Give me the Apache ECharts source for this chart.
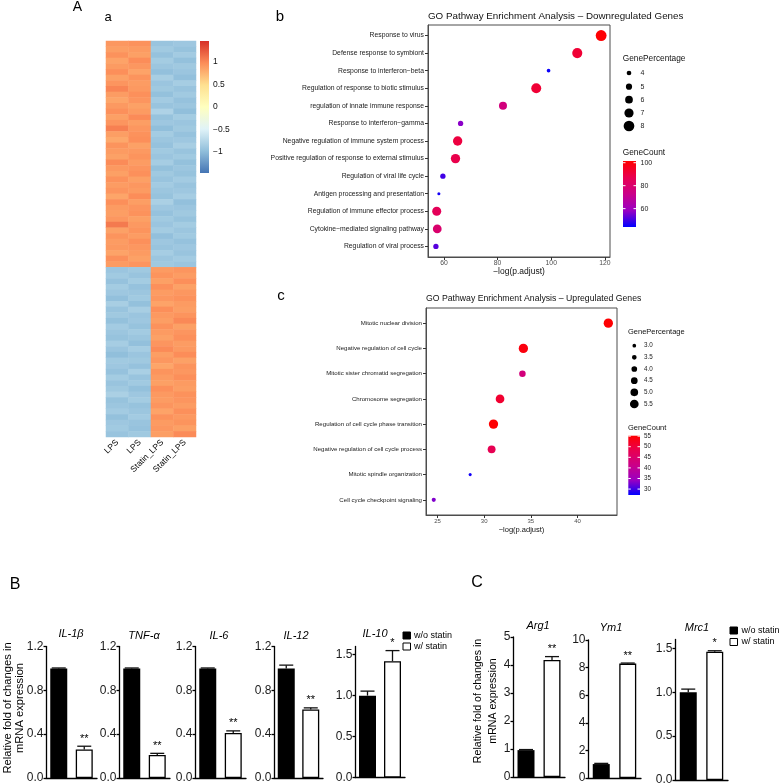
<!DOCTYPE html>
<html><head><meta charset="utf-8">
<script src="https://cdn.jsdelivr.net/npm/echarts@6/dist/echarts.min.js"></script>
<style>html,body{margin:0;padding:0;background:#fff}#c{width:784px;height:784px}</style>
</head><body><div id="c"></div>
<script>
// ---------------- DATA ----------------
// Heatmap (z-scores), two gene blocks
const heatSamples = ['LPS','LPS','Statin_LPS','Statin_LPS'];
const heatColorTicks = [1, 0.5, 0, -0.5, -1];
const topLPS1 = [0.92,0.88,0.95,0.85,0.90,0.97,0.86,0.93,1.02,0.89,0.84,0.91,0.96,0.87,0.93,1.05,0.88,0.82,0.94,0.90,0.86,0.99,0.91,0.87,0.95,0.89,0.93,0.84,0.97,0.90,0.88,0.92,1.08,0.86,0.94,0.89,0.91,0.85,0.96,0.90];
const topLPS2 = [0.95,0.90,0.87,0.98,0.92,0.85,0.94,0.89,0.91,0.96,0.93,0.86,0.90,0.99,0.88,0.92,0.95,0.97,0.86,0.91,0.94,0.89,0.93,0.96,0.87,0.92,0.90,0.98,0.88,0.93,0.95,0.87,0.91,0.94,0.89,0.96,0.92,0.90,0.86,0.93];
const topS1 = [-0.93,-0.88,-0.95,-0.86,-0.91,-0.97,-0.84,-0.92,-0.89,-0.96,-0.87,-0.93,-0.80,-0.94,-0.90,-0.98,-0.86,-0.91,-0.95,-0.88,-0.92,-0.85,-0.96,-0.89,-0.93,-0.87,-0.91,-0.94,-0.82,-0.90,-0.95,-0.88,-0.92,-0.86,-0.97,-0.90,-0.93,-0.85,-0.91,-0.89];
const topS2 = [-0.90,-0.94,-0.87,-0.96,-0.89,-0.92,-0.97,-0.85,-0.93,-0.88,-0.95,-0.91,-0.98,-0.86,-0.92,-0.89,-0.95,-0.90,-0.84,-0.93,-0.88,-0.96,-0.91,-0.94,-0.87,-0.93,-0.90,-0.85,-0.97,-0.92,-0.89,-0.94,-0.86,-0.91,-0.88,-0.95,-0.90,-0.93,-0.87,-0.92];
const botLPS1 = [-0.92,-0.88,-0.95,-0.86,-0.90,-0.97,-0.84,-0.93,-0.89,-0.96,-0.87,-0.91,-0.94,-0.85,-0.92,-0.98,-0.88,-0.90,-0.95,-0.86,-0.93,-0.89,-0.82,-0.94,-0.91,-0.87,-0.96,-0.90,-0.88,-0.93];
const botLPS2 = [-0.89,-0.93,-0.86,-0.95,-0.91,-0.88,-0.96,-0.84,-0.92,-0.90,-0.94,-0.87,-0.91,-0.97,-0.85,-0.92,-0.89,-0.95,-0.83,-0.93,-0.88,-0.96,-0.90,-0.86,-0.94,-0.91,-0.87,-0.93,-0.95,-0.89];
const botS1 = [0.90,0.94,0.87,0.96,0.89,0.92,0.85,0.97,0.91,0.88,0.95,0.90,0.86,0.93,0.99,0.88,0.92,0.84,0.94,0.90,0.87,0.96,0.91,0.89,0.93,0.85,0.95,0.90,0.92,0.88];
const botS2 = [0.93,0.89,0.97,0.86,0.92,0.95,0.90,0.88,0.94,1.00,0.87,0.93,0.96,0.89,0.91,0.98,0.86,0.94,0.92,0.97,0.90,0.88,0.95,0.93,0.89,0.96,0.91,0.94,0.87,0.99];

// GO downregulated
const downTerms = ['Response to virus','Defense response to symbiont','Response to interferon\u2212beta','Regulation of response to biotic stimulus','regulation of innate immune response','Response to interferon\u2212gamma','Negative regulation of immune system process','Positive regulation of response to external stimulus','Regulation of viral life cycle','Antigen processing and presentation','Regulation of immune effector process','Cytokine\u2212mediated signaling pathway','Regulation of viral process'];
const downLogP = [118.6,109.7,99.0,94.4,82.0,66.2,65.1,64.3,59.6,58.1,57.3,57.5,57.0];
const downPct = [8.1,7.6,3.3,7.5,6.2,4.4,7.1,7.1,4.4,2.9,6.9,6.7,4.4];
const downCount = [101,92,45,92,76,57,90,88,50,46,85,80,52];
const downXTicks = [60,80,100,120];
const downPctTicks = [4,5,6,7,8];
const downCountTicks = [100,80,60];

// GO upregulated
const upTerms = ['Mitotic nuclear division','Negative regulation of cell cycle','Mitotic sister chromatid segregation','Chromosome segregation','Regulation of cell cycle phase transition','Negative regulation of cell cycle process','Mitotic spindle organization','Cell cycle checkpoint signaling'];
const upLogP = [43.3,34.2,34.1,31.7,31.0,30.8,28.5,24.6];
const upPct = [5.8,5.8,4.4,5.5,5.8,5.1,2.7,3.2];
const upCount = [55,54,43,51,55,48,28,33];
const upXTicks = [25,30,35,40];
const upPctTicks = [3.0,3.5,4.0,4.5,5.0,5.5];
const upCountTicks = [55,50,45,40,35,30];

// qPCR bars
const barGenes = ['IL-1\u03b2','TNF-\u03b1','IL-6','IL-12','IL-10','Arg1','Ym1','Mrc1'];
const barGroups = ['w/o statin','w/ statin'];
const ctrlMean = [1.00,1.00,1.00,1.00,1.00,0.96,1.01,1.00];
const ctrlErr = [0.004,0.004,0.004,0.03,0.055,0.02,0.05,0.035];
const statinMean = [0.26,0.21,0.41,0.625,1.42,4.18,8.29,1.46];
const statinErr = [0.03,0.015,0.02,0.015,0.13,0.12,0.04,0.012];
const sigMarks = ['**','**','**','**','*','**','**','*'];
const yTickVals = [[0,0.4,0.8,1.2],[0,0.4,0.8,1.2],[0,0.4,0.8,1.2],[0,0.4,0.8,1.2],[0,0.5,1.0,1.5],[0,1,2,3,4,5],[0,2,4,6,8,10],[0,0.5,1.0,1.5]];
const yAxisMax = [1.2,1.2,1.2,1.2,1.6,5,10,1.6];
const yDecimals = [1,1,1,1,1,0,0,1];

// ---------------- LAYOUT / STYLE ----------------
const FONT = 'Liberation Sans, Arial, sans-serif';
const rdylbu = ['#4575B4','#91BFDB','#E0F3F8','#FFFFBF','#FEE090','#FC8D59','#D73027'];
const blueRed = ['#0000FF','#9A00C2','#CA0089','#E80050','#FF0000'];
const heatRange = [-1.47, 1.47];
const downCountRange = [44, 101.5];
const upCountRange = [27.2, 55.2];
const sizeB = p => 1.5 * p - 1.3;
const sizeC = p => Math.max(2, 2.0 * p - 2.3);

const barLayout = [
  {left:46, top:646.5, width:51, height:131.5, tx:71, ty:634},
  {left:119, top:646.5, width:51, height:131.5, tx:144, ty:636},
  {left:195, top:646.5, width:51, height:131.5, tx:219, ty:636},
  {left:274, top:646.5, width:49, height:131.5, tx:296, ty:636},
  {left:355, top:646.5, width:50, height:131, tx:375, ty:634},
  {left:513, top:637, width:52, height:140, tx:538, ty:626},
  {left:588, top:640, width:53, height:138, tx:611, ty:628},
  {left:675, top:639.5, width:53, height:140.5, tx:697, ty:628}
];

// ---------------- BUILD ----------------
const hmCols = [topLPS1.concat(botLPS1), topLPS2.concat(botLPS2), topS1.concat(botS1), topS2.concat(botS2)];
const nRows = hmCols[0].length;
const heatData = [];
for (let c = 0; c < 4; c++) for (let r = 0; r < nRows; r++) heatData.push([c, r, hmCols[c][r]]);
const rowIds = []; for (let r = 0; r < nRows; r++) rowIds.push('g' + r);

const grids = [
  {left:106, top:41, width:90, height:396, outerBoundsMode:'none'},
  {left:428, top:25, width:182, height:232, show:true, borderColor:'#4d4d4d', borderWidth:1, outerBoundsMode:'none'},
  {left:426, top:308, width:191, height:207, show:true, borderColor:'#4d4d4d', borderWidth:1, outerBoundsMode:'none'}
];
const xAxes = [
  {gridIndex:0, type:'category', data:heatSamples, axisLine:{show:false}, axisTick:{show:false},
   axisLabel:{rotate:45, fontSize:8.5, margin:4, color:'#000', interval:0, fontFamily:FONT}},
  {gridIndex:1, type:'value', min:54.05, max:121.9, splitLine:{show:false},
   axisLine:{show:true, onZero:false, lineStyle:{color:'#4d4d4d', width:1}},
   axisTick:{show:true, length:3, customValues:downXTicks, lineStyle:{color:'#333'}},
   axisLabel:{customValues:downXTicks, fontSize:6.8, color:'#4d4d4d', margin:3, fontFamily:FONT}},
  {gridIndex:2, type:'value', min:23.77, max:44.23, splitLine:{show:false},
   axisLine:{show:true, onZero:false, lineStyle:{color:'#4d4d4d', width:1}},
   axisTick:{show:true, length:3, customValues:upXTicks, lineStyle:{color:'#333'}},
   axisLabel:{customValues:upXTicks, fontSize:6, color:'#4d4d4d', margin:3, fontFamily:FONT}}
];
const yAxes = [
  {gridIndex:0, type:'category', data:rowIds, inverse:true, show:false},
  {gridIndex:1, type:'value', min:-0.6, max:12.6, inverse:true, splitLine:{show:false},
   axisLine:{show:true, onZero:false, lineStyle:{color:'#4d4d4d', width:1}},
   axisTick:{show:true, length:3, customValues:downTerms.map((_, i) => i), lineStyle:{color:'#333'}},
   axisLabel:{customValues:downTerms.map((_, i) => i), formatter: v => downTerms[Math.round(v)], fontSize:6.8, color:'#1a1a1a', margin:4, fontFamily:FONT}},
  {gridIndex:2, type:'value', min:-0.6, max:7.6, inverse:true, splitLine:{show:false},
   axisLine:{show:true, onZero:false, lineStyle:{color:'#4d4d4d', width:1}},
   axisTick:{show:true, length:3, customValues:upTerms.map((_, i) => i), lineStyle:{color:'#333'}},
   axisLabel:{customValues:upTerms.map((_, i) => i), formatter: v => upTerms[Math.round(v)], fontSize:6.1, color:'#1a1a1a', margin:4, fontFamily:FONT}}
];
const series = [
  {type:'heatmap', xAxisIndex:0, yAxisIndex:0, data:heatData, silent:true, itemStyle:{borderWidth:0}, progressive:0},
  {type:'scatter', xAxisIndex:1, yAxisIndex:1, silent:true,
   data: downLogP.map((x, i) => [x, i, downPct[i], downCount[i]]),
   symbolSize: v => sizeB(v[2]), itemStyle:{opacity:1}},
  {type:'scatter', xAxisIndex:2, yAxisIndex:2, silent:true,
   data: upLogP.map((x, i) => [x, i, upPct[i], upCount[i]]),
   symbolSize: v => sizeC(v[2]), itemStyle:{opacity:1}}
];

const elements = [];
function T(x, y, text, size, opts) {
  return {type:'text', x:x, y:y, silent:true, z:10,
    style:Object.assign({text:text, fill:'#000', fontSize:size, fontFamily:FONT, textAlign:'center', textVerticalAlign:'middle'}, opts || {})};
}
function L(x1, y1, x2, y2, color, w) {
  return {type:'line', silent:true, z:11, shape:{x1:x1, y1:y1, x2:x2, y2:y2}, style:{stroke:color, lineWidth:w || 1}};
}

barGenes.forEach((g, k) => {
  const gi = 3 + k, lay = barLayout[k];
  grids.push({left:lay.left, top:lay.top, width:lay.width, height:lay.height, outerBoundsMode:'none'});
  xAxes.push({gridIndex:gi, type:'category', data:barGroups,
    axisLine:{show:true, lineStyle:{color:'#000', width:1.3}}, axisTick:{show:false}, axisLabel:{show:false}});
  yAxes.push({gridIndex:gi, type:'value', min:0, max:yAxisMax[k], splitLine:{show:false},
    axisLine:{show:true, lineStyle:{color:'#000', width:1.3}},
    axisTick:{show:true, length:2.5, customValues:yTickVals[k], lineStyle:{color:'#000', width:1.3}},
    axisLabel:{customValues:yTickVals[k], formatter: v => Number(v).toFixed(yDecimals[k]), fontSize:12, color:'#1a1a1a', margin:2.5, fontFamily:FONT}});
  series.push({type:'bar', xAxisIndex:gi, yAxisIndex:gi, barWidth:17, silent:true,
    data:[{value:ctrlMean[k], itemStyle:{color:'#000'}},
          {value:statinMean[k], itemStyle:{color:'#fff', borderColor:'#000', borderWidth:1.3}}]});
  const errData = [[0, ctrlMean[k], ctrlErr[k]], [1, statinMean[k], statinErr[k]]];
  series.push({type:'custom', xAxisIndex:gi, yAxisIndex:gi, silent:true, z:5,
    encode:{x:0, y:1}, data:errData,
    renderItem: function (params, api) {
      const x = api.value(0), m = api.value(1), e = api.value(2);
      const p0 = api.coord([x, m]), p1 = api.coord([x, m + e]);
      const half = 7;
      const ch = [
        {type:'line', shape:{x1:p0[0], y1:p0[1], x2:p1[0], y2:p1[1]}, style:{stroke:'#111', lineWidth:1.3}},
        {type:'line', shape:{x1:p1[0]-half, y1:p1[1], x2:p1[0]+half, y2:p1[1]}, style:{stroke:'#111', lineWidth:1.3}}
      ];
      if (params.dataIndex === 1) {
        ch.push({type:'text', x:p1[0], y:p1[1]-2, style:{text:sigMarks[k], fontSize:11, fontFamily:FONT, fill:'#000', textAlign:'center', textVerticalAlign:'bottom'}});
      }
      return {type:'group', children:ch};
    }});
  elements.push(T(lay.tx, lay.ty, g, 11, {fontStyle:'italic'}));
});

// Panel letters
elements.push(T(77.5, 7, 'A', 14));
elements.push(T(108, 17, 'a', 13));
elements.push(T(280, 17, 'b', 15));
elements.push(T(281, 296, 'c', 15));
elements.push(T(15, 585, 'B', 16));
elements.push(T(477, 583, 'C', 16));

// Heatmap colour bar
(function () {
  const bx = 200, by = 41, bw = 9, bh = 132;
  elements.push({type:'rect', silent:true, shape:{x:bx, y:by, width:bw, height:bh},
    style:{fill:new echarts.graphic.LinearGradient(0, 1, 0, 0, rdylbu.map((c, i) => ({offset:i/(rdylbu.length-1), color:c})))}});
  heatColorTicks.forEach(v => {
    const y = by + (heatRange[1] - v) / (heatRange[1] - heatRange[0]) * bh;
    elements.push(T(bx + 13, y, String(v).replace('-', '\u2212'), 8.5, {textAlign:'left', fill:'#111'}));
  });
})();

// GO titles & axis names
elements.push(T(428, 16, 'GO Pathway Enrichment Analysis \u2013 Downregulated Genes', 9.8, {textAlign:'left', fill:'#111'}));
elements.push(T(519, 272, '\u2212log(p.adjust)', 8.5, {fill:'#111'}));
elements.push(T(426, 299, 'GO Pathway Enrichment Analysis \u2013 Upregulated Genes', 8.7, {textAlign:'left', fill:'#111'}));
elements.push(T(521.5, 530, '\u2212log(p.adjust)', 7.5, {fill:'#111'}));

// GO legends
function goLegend(o) {
  elements.push(T(o.x, o.titleY, 'GenePercentage', o.titleSize, {textAlign:'left', fill:'#111'}));
  o.pctTicks.forEach((p, i) => {
    const y = o.pctY[i];
    elements.push({type:'circle', silent:true, shape:{cx:o.cx, cy:y, r:o.size(p)/2}, style:{fill:'#000'}});
    elements.push(T(o.lx, y, o.pctFmt(p), o.labSize, {textAlign:'left', fill:'#222'}));
  });
  elements.push(T(o.x, o.countTitleY, 'GeneCount', o.titleSize, {textAlign:'left', fill:'#111'}));
  elements.push({type:'rect', silent:true, shape:{x:o.barX, y:o.barY, width:o.barW, height:o.barH},
    style:{fill:new echarts.graphic.LinearGradient(0, 1, 0, 0, blueRed.map((c, i) => ({offset:i/(blueRed.length-1), color:c})))}});
  o.countTicks.forEach(v => {
    const y = o.barY + (o.range[1] - v) / (o.range[1] - o.range[0]) * o.barH;
    elements.push(L(o.barX, y, o.barX + 2.5, y, '#fff', 1));
    elements.push(L(o.barX + o.barW - 2.5, y, o.barX + o.barW, y, '#fff', 1));
    elements.push(T(o.lx, y, String(v), o.labSize, {textAlign:'left', fill:'#222'}));
  });
}
goLegend({x:622.7, titleY:59, titleSize:8.3, pctTicks:downPctTicks, pctY:[73,86.7,99.7,113,126], cx:629, lx:640.5,
  size:sizeB, pctFmt: p => String(p), labSize:7, countTitleY:153, barX:623, barY:161, barW:13, barH:66,
  range:downCountRange, countTicks:downCountTicks});
goLegend({x:628, titleY:332, titleSize:7.5, pctTicks:upPctTicks, pctY:[345.7,357.3,369,380.7,392.3,404], cx:634.3, lx:644,
  size:sizeC, pctFmt: p => p.toFixed(1), labSize:6.3, countTitleY:428, barX:628.3, barY:435.7, barW:11.7, barH:59.3,
  range:upCountRange, countTicks:upCountTicks});

// qPCR y titles
function yTitle(x, y, text, size) {
  const t = T(x, y, text, size);
  t.rotation = Math.PI / 2;
  return t;
}
elements.push(yTitle(7.5, 708, 'Relative fold of changes in', 11.2));
elements.push(yTitle(20, 708, 'mRNA expression', 11.2));
elements.push(yTitle(478, 701, 'Relative fold of changes in', 10.6));
elements.push(yTitle(493, 701, 'mRNA expression', 10.6));

// qPCR legends
function barLegend(x, y1, y2, tx, size) {
  elements.push({type:'rect', silent:true, shape:{x:x, y:y1-3.5, width:7.5, height:7}, style:{fill:'#000', stroke:'#000', lineWidth:1}});
  elements.push({type:'rect', silent:true, shape:{x:x, y:y2-3.5, width:7.5, height:7}, style:{fill:'#fff', stroke:'#000', lineWidth:1}});
  elements.push(T(tx, y1, barGroups[0], size, {textAlign:'left'}));
  elements.push(T(tx, y2, barGroups[1], size, {textAlign:'left'}));
}
barLegend(403, 635.5, 646.5, 414, 9);
barLegend(730, 630.5, 642, 741.5, 9);

const option = {
  animation:false,
  backgroundColor:'#fff',
  textStyle:{fontFamily:FONT},
  grid:grids, xAxis:xAxes, yAxis:yAxes, series:series,
  visualMap:[
    {type:'continuous', show:false, seriesIndex:0, dimension:2, min:heatRange[0], max:heatRange[1], inRange:{color:rdylbu}},
    {type:'continuous', show:false, seriesIndex:1, dimension:3, min:downCountRange[0], max:downCountRange[1], inRange:{color:blueRed}},
    {type:'continuous', show:false, seriesIndex:2, dimension:3, min:upCountRange[0], max:upCountRange[1], inRange:{color:blueRed}}
  ],
  graphic:{elements:elements}
};
const chart = echarts.init(document.getElementById('c'), null, {renderer:'canvas'});
chart.setOption(option);
</script></body></html>
